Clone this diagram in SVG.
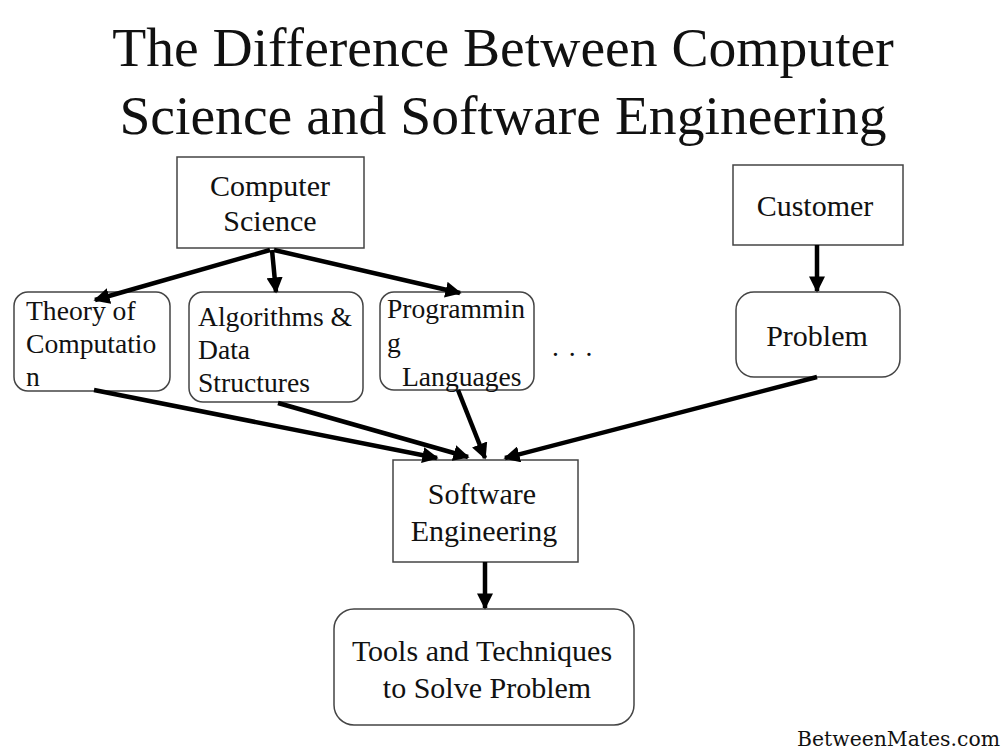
<svg xmlns="http://www.w3.org/2000/svg" width="1005" height="753" viewBox="0 0 1005 753">
<style>
.t{font-family:"Liberation Serif","Times New Roman",serif;fill:#111}
.title{font-size:55.6px}
.n{font-size:30px}
.s{font-size:27.6px}
.box{fill:#fff;stroke:#444;stroke-width:1.5}
.c{stroke:#000;stroke-width:4.5;fill:none}
</style>
<defs>
<marker id="ah" viewBox="0 0 10 10" refX="9" refY="5" markerWidth="3.6" markerHeight="3.6" markerUnits="strokeWidth" orient="auto">
<path d="M0,0 L10,5 L0,10 z" fill="#000"/>
</marker>
</defs>
<rect width="1005" height="753" fill="#fff"/>
<g id="title" class="t title" text-anchor="middle">
<text x="503" y="66">The Difference Between Computer</text>
<text x="503" y="134">Science and Software Engineering</text>
</g>
<g id="cs"><rect class="box" x="177" y="157" width="187" height="91"/>
<text class="t n" text-anchor="middle" x="270" y="196">Computer</text>
<text class="t n" text-anchor="middle" x="270" y="231">Science</text></g>
<g id="customer"><rect class="box" x="733" y="165" width="170" height="80"/>
<text class="t n" text-anchor="middle" x="815" y="216">Customer</text></g>
<g id="theory"><rect class="box" x="14" y="292" width="156" height="99" rx="14"/>
<text class="t s" x="26" y="320">Theory of</text>
<text class="t s" x="26" y="353">Computatio</text>
<text class="t s" x="26" y="386">n</text></g>
<g id="algo"><rect class="box" x="189" y="292" width="174" height="110" rx="14"/>
<text class="t s" x="198" y="326">Algorithms &amp;</text>
<text class="t s" x="198" y="359">Data</text>
<text class="t s" x="198" y="392">Structures</text></g>
<g id="prog"><rect class="box" x="380" y="292" width="154" height="98" rx="14"/>
<text class="t s" x="387" y="318">Programmin</text>
<text class="t s" x="387" y="352">g</text>
<text class="t s" x="402" y="386">Languages</text></g>
<g id="dots"><text class="t s" x="552" y="356" letter-spacing="1.5">. . .</text></g>
<g id="problem"><rect class="box" x="736" y="292" width="164" height="85" rx="18"/>
<text class="t n" text-anchor="middle" x="817" y="346">Problem</text></g>
<g id="se"><rect class="box" x="393" y="460" width="185" height="102"/>
<text class="t n" text-anchor="middle" x="482" y="504">Software</text>
<text class="t n" text-anchor="middle" x="484" y="541">Engineering</text></g>
<g id="tools"><rect class="box" x="334" y="609" width="300" height="116" rx="20"/>
<text class="t n" text-anchor="middle" x="482" y="661">Tools and Techniques</text>
<text class="t n" text-anchor="middle" x="487" y="698">to Solve Problem</text></g>
<g id="connectors" class="c">
<line x1="270" y1="250" x2="95" y2="300" marker-end="url(#ah)"/>
<line x1="272" y1="250" x2="276" y2="292" marker-end="url(#ah)"/>
<line x1="274" y1="250" x2="460" y2="293" marker-end="url(#ah)"/>
<line x1="817" y1="245" x2="817" y2="291" marker-end="url(#ah)"/>
<line x1="94" y1="390" x2="437" y2="458" marker-end="url(#ah)"/>
<line x1="278" y1="403" x2="468" y2="457" marker-end="url(#ah)"/>
<line x1="458" y1="390" x2="485" y2="458" marker-end="url(#ah)"/>
<line x1="817" y1="377" x2="505" y2="458" marker-end="url(#ah)"/>
<line x1="485" y1="562" x2="485" y2="608" marker-end="url(#ah)"/>
</g>
<g id="watermark"><text x="797" y="746" font-family="'DejaVu Serif',serif" font-size="21" fill="#111" textLength="203" lengthAdjust="spacingAndGlyphs">BetweenMates.com</text></g>
</svg>
